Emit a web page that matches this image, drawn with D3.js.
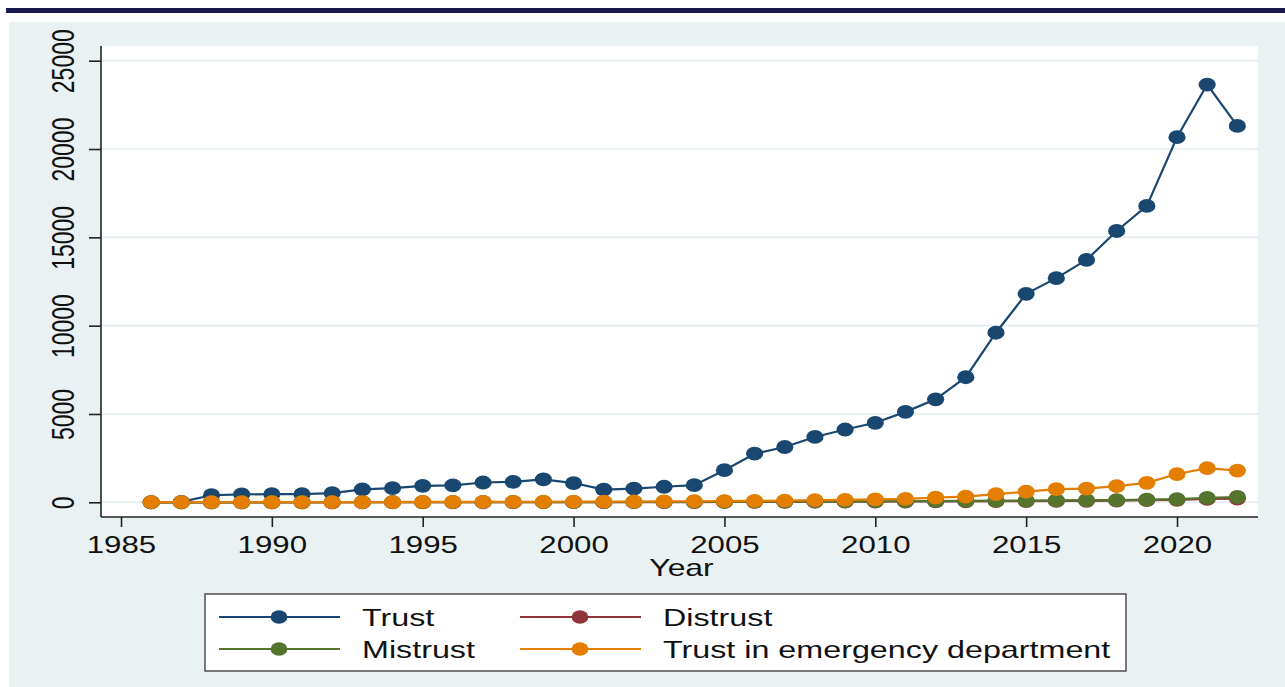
<!DOCTYPE html>
<html>
<head>
<meta charset="utf-8">
<script src="https://cdn.jsdelivr.net/npm/d3@7/dist/d3.min.js"></script>
<style>
  html, body { margin: 0; padding: 0; background: #ffffff; }
  svg { display: block; font-family: "Liberation Sans", Arial, sans-serif; }
</style>
</head>
<body>
<svg id="chart" width="1285" height="687"></svg>
<script>
// ---- Data ----
const years = d3.range(1986, 2023);
const trust = [5, 20, 400, 450, 460, 460, 520, 730, 800, 930, 960, 1120, 1160, 1300,
  1090, 720, 770, 880, 970, 1820, 2750, 3130, 3700, 4120, 4500, 5120, 5830, 7080,
  9600, 11800, 12690, 13720, 15360, 16780, 20670, 23650, 21310];
const distrust = [0, 0, 0, 0, 1, 1, 1, 2, 2, 3, 3, 4, 5, 5,
  6, 8, 10, 12, 15, 20, 25, 28, 32, 36, 40, 45, 50, 55,
  62, 70, 78, 85, 95, 120, 140, 190, 210];
const mistrust = [0, 0, 1, 1, 2, 2, 3, 4, 5, 6, 7, 8, 9, 10,
  12, 15, 18, 20, 25, 30, 40, 45, 50, 55, 60, 65, 70, 80,
  95, 100, 110, 120, 125, 150, 180, 250, 300];
const trustED = [5, 5, 10, 10, 10, 10, 15, 15, 15, 20, 20, 25, 25, 30,
  35, 40, 45, 50, 60, 70, 80, 100, 120, 140, 170, 190, 260, 320,
  460, 600, 750, 770, 920, 1100, 1600, 1930, 1790];
const seriesNames = ["Trust", "Distrust", "Mistrust", "Trust in emergency department"];
const seriesColors = ["#1a476f", "#90353b", "#55752f", "#e37e00"];
const xTicks = [1985, 1990, 1995, 2000, 2005, 2010, 2015, 2020];
const yTicks = [0, 5000, 10000, 15000, 20000, 25000];
const xTitle = "Year";

const seriesValues = [trust, distrust, mistrust, trustED];
const series = seriesNames.map((n, i) => ({
  name: n, color: seriesColors[i],
  pts: years.map((yr, j) => ({ x: yr, y: seriesValues[i][j] }))
}));

// ---- Layout ----
const svg = d3.select("#chart");
const SX = 1.33; // horizontal glyph stretch seen in the reference
const plot = { left: 101, right: 1258, top: 46, bottom: 517 };

const x = d3.scaleLinear().domain([1985, 2020]).range([121, 1177]);
const y = d3.scaleLinear().domain([0, 25000]).range([502.3, 60.7]);

// top bar and backgrounds
svg.append("rect").attr("x", 6).attr("y", 8).attr("width", 1279).attr("height", 5).attr("fill", "#1b1a4e");
svg.append("rect").attr("x", 9).attr("y", 22).attr("width", 1276).attr("height", 665).attr("fill", "#eaf1f3");
svg.append("rect").attr("x", plot.left).attr("y", plot.top)
  .attr("width", plot.right - plot.left).attr("height", plot.bottom - plot.top).attr("fill", "#ffffff");

// gridlines
svg.append("g").selectAll("line").data(yTicks).join("line")
  .attr("x1", plot.left).attr("x2", plot.right)
  .attr("y1", d => y(d)).attr("y2", d => y(d))
  .attr("stroke", "#e3ecee").attr("stroke-width", 1.6);

// axes
const gx = svg.append("g").attr("transform", `translate(0,${plot.bottom})`)
  .call(d3.axisBottom(x).tickValues(xTicks).tickFormat(d3.format("d")).tickSize(10).tickSizeOuter(0));
gx.select(".domain").attr("d", `M${plot.left},0H${plot.right}`).attr("stroke", "#222").attr("stroke-width", 1.6);
gx.selectAll(".tick line").attr("stroke", "#222").attr("stroke-width", 1.6);
gx.selectAll(".tick text")
  .attr("x", null).attr("y", null).attr("dy", null)
  .attr("transform", `translate(0,36) scale(${SX},1)`)
  .attr("text-anchor", "middle").attr("fill", "#111")
  .style("font-size", "23.5px");

const gy = svg.append("g").attr("transform", `translate(${plot.left},0)`)
  .call(d3.axisLeft(y).tickValues(yTicks).tickFormat(d3.format("d")).tickSize(12).tickSizeOuter(0));
gy.select(".domain").attr("d", `M0,${plot.top}V${plot.bottom}`).attr("stroke", "#222").attr("stroke-width", 1.6);
gy.selectAll(".tick line").attr("stroke", "#222").attr("stroke-width", 1.6);
gy.selectAll(".tick text")
  .attr("x", null).attr("y", null).attr("dy", null)
  .attr("transform", `translate(-27.5,0) scale(${SX},1) rotate(-90)`)
  .attr("text-anchor", "middle").attr("fill", "#111")
  .style("font-size", "23px");

// axis title
svg.append("text")
  .attr("transform", `translate(${(plot.left + plot.right) / 2 + 2},576) scale(${SX},1)`)
  .attr("text-anchor", "middle").attr("fill", "#111").style("font-size", "24px")
  .text(xTitle);

// series
const line = d3.line().x(d => x(d.x)).y(d => y(d.y));
const gs = svg.append("g");
series.forEach(s => {
  const g = gs.append("g");
  g.append("path").attr("d", line(s.pts)).attr("fill", "none")
    .attr("stroke", s.color).attr("stroke-width", 2.2);
  g.selectAll("ellipse").data(s.pts).join("ellipse")
    .attr("cx", d => x(d.x)).attr("cy", d => y(d.y))
    .attr("rx", 8.6).attr("ry", 6.9).attr("fill", s.color);
});

// legend
const lg = svg.append("g");
lg.append("rect").attr("x", 205).attr("y", 594).attr("width", 921).attr("height", 77)
  .attr("fill", "#ffffff").attr("stroke", "#444").attr("stroke-width", 1.4);
const legPos = [
  { lx: 219, ty: 617 }, { lx: 520, ty: 617 },
  { lx: 219, ty: 649 }, { lx: 520, ty: 649 }
];
series.forEach((s, i) => {
  const p = legPos[i];
  lg.append("line").attr("x1", p.lx).attr("x2", p.lx + 121).attr("y1", p.ty).attr("y2", p.ty)
    .attr("stroke", s.color).attr("stroke-width", 2);
  lg.append("ellipse").attr("cx", p.lx + 60).attr("cy", p.ty).attr("rx", 8.4).attr("ry", 6.7).attr("fill", s.color);
  lg.append("text")
    .attr("transform", `translate(${p.lx + 143},${p.ty + 8.5}) scale(1.345,1)`)
    .attr("fill", "#111").style("font-size", "24px")
    .text(s.name);
});
</script>
</body>
</html>
